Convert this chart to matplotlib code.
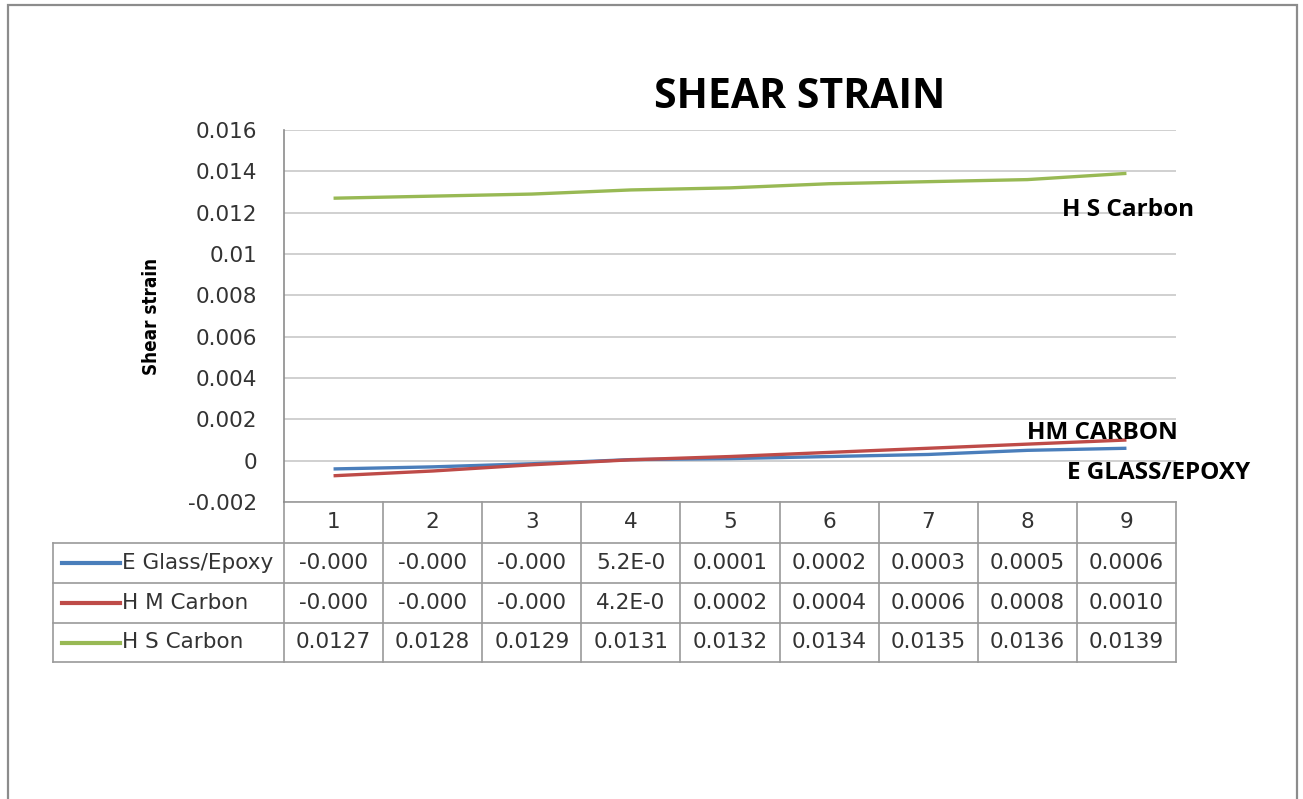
import matplotlib
matplotlib.use("Agg")
import matplotlib.pyplot as plt
from matplotlib.lines import Line2D
from matplotlib.patches import Rectangle
import matplotlib.transforms as mtransforms

categories = ["1", "2", "3", "4", "5", "6", "7", "8", "9"]
series_names = ["E Glass/Epoxy", "H M Carbon", "H S Carbon"]
e_glass = [-0.0004, -0.0003, -0.00015, 0.000052, 0.0001, 0.0002, 0.0003, 0.0005, 0.0006]
hm_carbon = [-0.00073, -0.0005, -0.0002, 0.000042, 0.0002, 0.0004, 0.0006, 0.0008, 0.0010]
hs_carbon = [0.0127, 0.0128, 0.0129, 0.0131, 0.0132, 0.0134, 0.0135, 0.0136, 0.0139]
table_text = [
    ["-0.000", "-0.000", "-0.000", "5.2E-0", "0.0001", "0.0002", "0.0003", "0.0005", "0.0006"],
    ["-0.000", "-0.000", "-0.000", "4.2E-0", "0.0002", "0.0004", "0.0006", "0.0008", "0.0010"],
    ["0.0127", "0.0128", "0.0129", "0.0131", "0.0132", "0.0134", "0.0135", "0.0136", "0.0139"],
]
yticks = [-0.002, 0, 0.002, 0.004, 0.006, 0.008, 0.01, 0.012, 0.014, 0.016]
ytick_labels = ["-0.002", "0", "0.002", "0.004", "0.006", "0.008", "0.01", "0.012", "0.014", "0.016"]
colors = ["#4a7ebb", "#be4b48", "#98b954"]

W, H = 1303, 799
fig = plt.figure(figsize=(W / 100, H / 100), dpi=100)
fig.patch.set_facecolor("white")

# outer frame
fig.patches.append(Rectangle((8 / W, -0.05), (1297 - 8) / W, (H - 5) / H + 0.05,
                             transform=fig.transFigure, fill=False,
                             edgecolor="#8c8c8c", lw=1.6))

ax_l, ax_r, ax_t, ax_b = 284, 1176, 130, 502
ax = fig.add_axes([ax_l / W, 1 - ax_b / H, (ax_r - ax_l) / W, (ax_b - ax_t) / H])
x = list(range(len(categories)))
for vals, c in zip([e_glass, hm_carbon, hs_carbon], colors):
    ax.plot(x, vals, color=c, lw=2.4, solid_capstyle="butt")

ax.set_xlim(-0.5, len(categories) - 0.5)
ax.set_ylim(-0.002, 0.016)
ax.set_yticks(yticks)
ax.set_yticklabels(ytick_labels, fontsize=15.5, family="DejaVu Sans", color="#333333")
ax.set_xticks([])
ax.tick_params(axis="y", length=0, pad=19)
ax.grid(axis="y", color="#c8c8c8", lw=1.2)
ax.set_axisbelow(True)
for s in ["top", "right", "bottom"]:
    ax.spines[s].set_visible(False)
ax.spines["left"].set_color("#8c8c8c")
ax.spines["left"].set_linewidth(1.2)

ax.set_ylabel("Shear strain", fontsize=13.5, family="DejaVu Sans", fontstretch="condensed",
              fontweight="bold", labelpad=20)

fig.text(800 / W, 1 - 97 / H, "SHEAR STRAIN", fontsize=29.5, fontweight="bold",
         family="Open Sans", ha="center", va="center")

# series labels
lab_kw = dict(fontsize=17.5, fontweight="bold", family="Open Sans", clip_on=False)
ax.text(7.35, 0.01215, "H S Carbon", ha="left", va="center", **lab_kw)
ax.text(7.0, 0.00132, "HM CARBON", ha="left", va="center", **lab_kw)
ax.text(7.4, -0.0006, "E GLASS/EPOXY", ha="left", va="center", **lab_kw)

# data table
trans = mtransforms.blended_transform_factory(ax.transData, ax.transAxes)
axh = ax_b - ax_t
def yfrac(py):
    return (ax_b - py) / axh

row_edges = [502, 543, 583, 623, 662]
grid_c = "#9a9a9a"
left_px = 53
unit = (ax_r - ax_l) / len(categories)
x_left = -0.5 - (ax_l - left_px) / unit

for i, py in enumerate(row_edges):
    x0 = -0.5 if i == 0 else x_left
    ax.add_line(Line2D([x0, len(categories) - 0.5], [yfrac(py)] * 2, transform=trans,
                       color=grid_c, lw=1.2, clip_on=False))
for k in range(len(categories) + 1):
    ax.add_line(Line2D([k - 0.5] * 2, [yfrac(502), yfrac(662)], transform=trans,
                       color=grid_c, lw=1.2, clip_on=False))
ax.add_line(Line2D([x_left] * 2, [yfrac(543), yfrac(662)], transform=trans,
                   color=grid_c, lw=1.2, clip_on=False))

tkw = dict(fontsize=15.5, family="DejaVu Sans", color="#333333", transform=trans,
           clip_on=False, va="center")
hy = yfrac((502 + 543) / 2)
for k, cat in enumerate(categories):
    ax.text(k, hy, cat, ha="center", **tkw)
for r in range(3):
    ry = yfrac((row_edges[r + 1] + row_edges[r + 2]) / 2)
    for k, t in enumerate(table_text[r]):
        ax.text(k, ry, t, ha="center", **tkw)
    lx0 = -0.5 - (ax_l - 62) / unit
    lx1 = -0.5 - (ax_l - 120) / unit
    ax.add_line(Line2D([lx0, lx1], [ry, ry], transform=trans, color=colors[r], lw=3,
                       clip_on=False))
    ax.text(-0.5 - (ax_l - 122) / unit, ry, series_names[r], ha="left", **tkw)

fig.savefig("out.png", dpi=100, facecolor="white")
